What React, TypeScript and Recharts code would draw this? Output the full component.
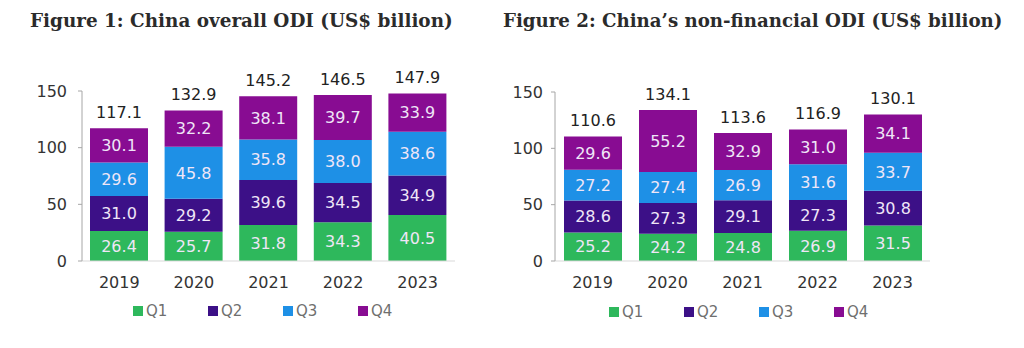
import { BarChart, Bar, XAxis, YAxis, LabelList, Legend } from "recharts";

const years = ["2019", "2020", "2021", "2022", "2023"];
const quarters = ["Q1", "Q2", "Q3", "Q4"];

// overall ODI by quarter, US$ billion
const overallQ1 = [26.4, 25.7, 31.8, 34.3, 40.5];
const overallQ2 = [31.0, 29.2, 39.6, 34.5, 34.9];
const overallQ3 = [29.6, 45.8, 35.8, 38.0, 38.6];
const overallQ4 = [30.1, 32.2, 38.1, 39.7, 33.9];
const overallTotal = [117.1, 132.9, 145.2, 146.5, 147.9];

// non-financial ODI by quarter, US$ billion
const nonFinQ1 = [25.2, 24.2, 24.8, 26.9, 31.5];
const nonFinQ2 = [28.6, 27.3, 29.1, 27.3, 30.8];
const nonFinQ3 = [27.2, 27.4, 26.9, 31.6, 33.7];
const nonFinQ4 = [29.6, 55.2, 32.9, 31.0, 34.1];
const nonFinTotal = [110.6, 134.1, 113.6, 116.9, 130.1];

const yTicks = [0, 50, 100, 150];

const COLORS: Record<string, string> = {
  Q1: "#2eb85c",
  Q2: "#3c1087",
  Q3: "#1e90e6",
  Q4: "#880c92",
};

const FONT = "'DejaVu Sans', Verdana, sans-serif";
const TITLE_FONT = "'DejaVu Serif', Georgia, serif";

function buildRows(q1: number[], q2: number[], q3: number[], q4: number[], total: number[]) {
  return years.map((year, i) => ({
    year,
    Q1: q1[i],
    Q2: q2[i],
    Q3: q3[i],
    Q4: q4[i],
    total: total[i],
  }));
}

const overallData = buildRows(overallQ1, overallQ2, overallQ3, overallQ4, overallTotal);
const nonFinData = buildRows(nonFinQ1, nonFinQ2, nonFinQ3, nonFinQ4, nonFinTotal);

function QuarterLegend() {
  return (
    <div style={{ display: "flex", fontFamily: FONT, fontSize: 15, lineHeight: "20px", color: "#6f6f6f" }}>
      {quarters.map((q) => (
        <div key={q} style={{ width: 75, display: "flex", alignItems: "center" }}>
          <span
            style={{
              display: "inline-block",
              width: 10,
              height: 10,
              background: COLORS[q],
              marginRight: 3,
            }}
          />
          <span style={{ fontSize: 15 }}>{q}</span>
        </div>
      ))}
    </div>
  );
}

interface OdiChartProps {
  title: string;
  titleSize: number;
  data: typeof overallData;
  left: number;
  titleLeft: number;
  yAxisWidth: number;
  tickMargin: number;
  top: number;
  right: number;
  legendLeft: number;
  legendTop: number;
}

function OdiChart(p: OdiChartProps) {
  return (
    <div style={{ position: "absolute", left: p.left, top: 0, width: 512, height: 348 }}>
      <div
        style={{
          position: "absolute",
          left: p.titleLeft,
          top: 10,
          fontFamily: TITLE_FONT,
          fontWeight: "bold",
          fontSize: p.titleSize,
          color: "#2b2b2b",
          whiteSpace: "nowrap",
        }}
      >
        {p.title}
      </div>
      <BarChart
        width={512}
        height={348}
        data={p.data}
        margin={{ top: p.top, right: p.right, bottom: 27, left: 0 }}
        barSize={58}
      >
        <XAxis
          dataKey="year"
          axisLine={{ stroke: "#d9d9d9" }}
          tickLine={false}
          tickSize={0}
          tickMargin={16}
          height={40}
          tick={{ fontSize: 16, fill: "#333", fontFamily: FONT }}
        />
        <YAxis
          domain={[0, 150]}
          ticks={yTicks}
          width={p.yAxisWidth}
          axisLine={{ stroke: "#a6a6a6" }}
          tickLine={{ stroke: "#a6a6a6" }}
          tickSize={4}
          tickMargin={p.tickMargin}
          tick={{ fontSize: 16, fill: "#333", fontFamily: FONT }}
        />
        <Legend
          content={() => <QuarterLegend />}
          wrapperStyle={{ left: p.legendLeft, top: p.legendTop, width: 320, height: 20 }}
        />
        {quarters.map((q) => (
          <Bar key={q} dataKey={q} stackId="odi" fill={COLORS[q]} isAnimationActive={false}>
            <LabelList
              dataKey={q}
              position="center"
              fill="#efe6f7"
              fontSize={16}
              fontFamily={FONT}
              formatter={(v: any) => Number(v).toFixed(1)}
            />
            {q === "Q4" && (
              <LabelList
                dataKey="total"
                position="top"
                offset={10}
                fill="#222"
                fontSize={16}
                fontFamily={FONT}
                formatter={(v: any) => Number(v).toFixed(1)}
              />
            )}
          </Bar>
        ))}
      </BarChart>
    </div>
  );
}

export default function App() {
  return (
    <div
      style={{
        position: "absolute",
        left: 0,
        top: 0,
        width: 1024,
        height: 348,
        background: "#fff",
        overflow: "hidden",
      }}
    >
      <OdiChart
        title="Figure 1: China overall ODI (US$ billion)"
        titleSize={18.4}
        data={overallData}
        left={0}
        titleLeft={30}
        yAxisWidth={82}
        tickMargin={11}
        top={91}
        right={57}
        legendLeft={133}
        legendTop={301}
      />
      <OdiChart
        title="Figure 2: China’s non-financial ODI (US$ billion)"
        titleSize={18.2}
        data={nonFinData}
        left={512}
        titleLeft={-9}
        yAxisWidth={43}
        tickMargin={8}
        top={92}
        right={94}
        legendLeft={97}
        legendTop={302}
      />
    </div>
  );
}
